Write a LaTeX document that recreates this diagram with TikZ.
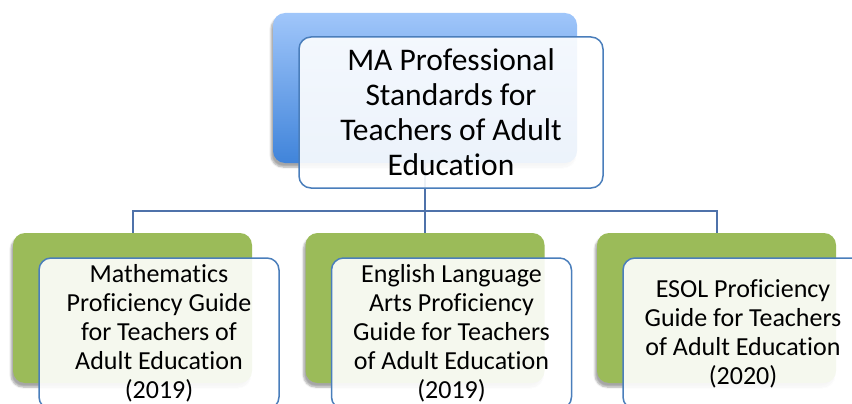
\documentclass[tikz,border=0pt]{standalone}
\usepackage{fontspec}
\setmainfont{Carlito}[RawFeature={-liga;-clig;-dlig}]
\usetikzlibrary{shadows.blur}
\definecolor{bluetop}{RGB}{160,198,250}
\definecolor{bluebot}{RGB}{64,132,218}
\definecolor{greenbk}{RGB}{155,187,89}
\definecolor{edgeblue}{RGB}{74,126,187}
\definecolor{connblue}{RGB}{79,114,170}
\tikzset{
  backbox/.style={rectangle, rounded corners=12pt, minimum width=239pt, minimum height=150pt, inner sep=0pt,
    blur shadow={shadow xshift=-2pt, shadow yshift=-4pt, shadow blur steps=6, shadow opacity=35}},
  bluebox/.style={backbox, minimum width=304pt, top color=bluetop, bottom color=bluebot},
  greenbox/.style={backbox, fill=greenbk},
  frontbox/.style={rectangle, rounded corners=12pt, draw=edgeblue, line width=1.5pt, fill=white, fill opacity=0.9, text opacity=1, inner sep=0pt, align=center},
  topfront/.style={frontbox, minimum width=304pt, minimum height=151pt, font=\fontsize{31.5}{35}\selectfont},
  subfront/.style={frontbox, minimum width=240pt, minimum height=151pt, font=\fontsize{26}{29}\selectfont},
  conn/.style={draw=connblue, line width=2pt}
}
\begin{document}
\begin{tikzpicture}[x=1pt,y=-1pt]
\useasboundingbox (0,0) rectangle (852,404);
\clip (0,0) rectangle (852,404);
% back boxes
\node[bluebox] (b0) at (425,88) {};
\node[greenbox] (b1) at (132.5,308) {};
\node[greenbox] (b2) at (425,308) {};
\node[greenbox] (b3) at (716.5,308) {};
% connectors
\coordinate (hub) at (425,211);
\draw[conn] (b0.south) -- (hub);
\draw[conn] (hub) -| (b1.north);
\draw[conn] (hub) -- (b2.north);
\draw[conn] (hub) -| (b3.north);
% front boxes
\node[topfront] (t0) at (451,112.5) {MA Professional\\Standards for\\Teachers of Adult\\Education};
\node[subfront] (f1) at (159,333.5) {Mathematics\\Proficiency Guide\\for Teachers of\\Adult Education\\(2019)};
\node[subfront] (f2) at (451.5,333.5) {English Language\\Arts Proficiency\\Guide for Teachers\\of Adult Education\\(2019)};
\node[subfront] (f3) at (743,333.5) {ESOL Proficiency\\Guide for Teachers\\of Adult Education\\(2020)};
\end{tikzpicture}
\end{document}
